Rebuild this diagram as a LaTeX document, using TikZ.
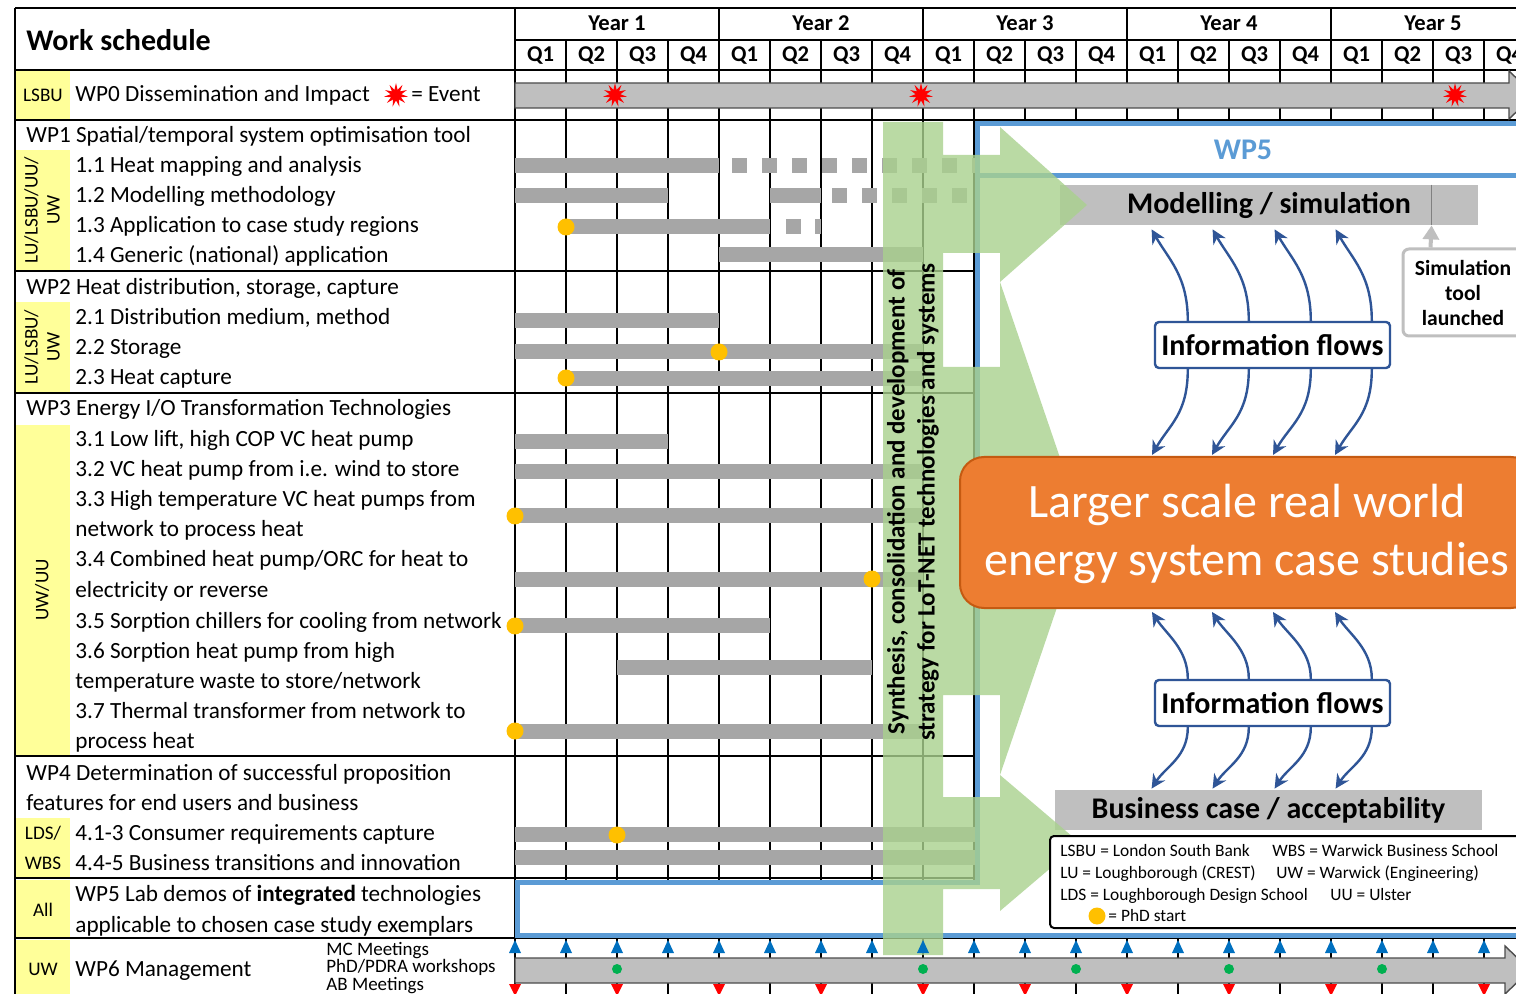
\documentclass[tikz,border=0pt]{standalone}
\usepackage{fontspec}
\setmainfont{Carlito}
\usetikzlibrary{shapes.geometric,arrows.meta,calc}
\definecolor{ylwc}{RGB}{255,255,153}
\definecolor{barc}{RGB}{166,166,166}
\definecolor{lgrayc}{RGB}{191,191,191}
\definecolor{goldc}{RGB}{255,192,0}
\definecolor{wpbluec}{RGB}{91,155,213}
\definecolor{dbluec}{RGB}{47,85,151}
\definecolor{orngc}{RGB}{237,125,49}
\definecolor{orngdc}{RGB}{197,90,17}
\definecolor{grnc}{RGB}{169,209,142}
\definecolor{tbluec}{RGB}{0,112,192}
\definecolor{mgreenc}{RGB}{0,176,80}
\newcommand\myfs[2]{\fontsize{#1}{#2}\selectfont}
\begin{document}
\begin{tikzpicture}[x=0.5pt,y=-0.5pt,
 every node/.style={inner sep=0pt},
 tx/.style={anchor=base west, font=\myfs{11.6}{13}},
 sm/.style={anchor=base west, font=\myfs{8.7}{9.5}},
 ycell/.style={fill=ylwc},
 gline/.style={line width=0.6pt},
 sline/.style={line width=1pt},
 barf/.style={fill=barc},
 phd/.style={circle, fill=goldc, minimum size=8.5pt},
 ev/.style={star, star points=11, star point ratio=2.2, fill=red, minimum size=12pt},
 flow/.style={draw=dbluec, line width=1.2pt, -{Stealth[length=7pt,width=7pt]}},
 ifbox/.style={draw=dbluec, line width=1.2pt, rounded corners=2pt, fill=white, minimum width=117.5pt, minimum height=23pt, font=\bfseries\myfs{15}{17}},
 graybar/.style={fill=lgrayc, minimum height=20pt, font=\bfseries\myfs{15}{17}},
 hdr/.style={anchor=base, font=\bfseries\myfs{11.3}{12}},
 ycl/.style={font=\myfs{9.6}{11}},
 bigarrow/.style={fill=lgrayc, draw=black!70, line width=0.7pt},
]
\useasboundingbox (0,0) rectangle (1516,994);
\clip (0,0) rectangle (1516,994);
\fill[white] (0,0) rectangle (1516,994);
% yellow cells
\fill[ycell] (15,70) rectangle (70,120);
\fill[ycell] (15,150) rectangle (70,270);
\fill[ycell] (15,302) rectangle (70,392);
\fill[ycell] (15,425) rectangle (70,755);
\fill[ycell] (15,818) rectangle (70,878);
\fill[ycell] (15,880) rectangle (70,937);
\fill[ycell] (15,940) rectangle (70,994);
% grid
\draw[sline] (15,8) -- (1516,8);
\draw[gline] (515,40) -- (1516,40);
\draw[sline] (15,70) -- (1516,70);
\draw[sline] (15,120) -- (1516,120);
\draw[sline] (15,8) -- (15,994);
\draw[sline] (515,8) -- (515,994);
\foreach \x in {719,923,1127,1331} \draw[gline] (\x,8) -- (\x,70);
\foreach \k in {1,...,19} {
  \pgfmathsetmacro\xx{515+51*\k}
  \draw[gline] (\xx,40) -- (\xx,120);
  \draw[gline] (\xx,938) -- (\xx,994);
}
\foreach \k in {1,...,9} {
  \pgfmathsetmacro\xx{515+51*\k}
  \draw[gline] (\xx,120) -- (\xx,938);
}
\foreach \y in {271,393,756,878} \draw[sline] (15,\y) -- (974,\y);
\draw[sline] (15,938) -- (1516,938);
% header texts
\node[anchor=base west, font=\bfseries\myfs{15}{17}] (ws) at (26,51) {Work schedule};
\foreach \i/\xx in {1/617,2/821,3/1025,4/1229,5/1433}
  \node[hdr] (yr\i) at (\xx,31) {Year \i};
\foreach \k in {0,...,19} {
  \pgfmathsetmacro\xx{540.5+51*\k}
  \pgfmathtruncatemacro\q{mod(\k,4)+1}
  \node[hdr] (q\k) at (\xx,62) {Q\q};
}
% yellow cell texts
\node[ycl] (c0) at (43,95) {LSBU};
\node[rotate=90, align=center, ycl] (c1) at (42,210) {LU/LSBU/UU/\\UW};
\node[rotate=90, align=center, ycl] (c2) at (42,347) {LU/LSBU/\\UW};
\node[rotate=90, ycl] (c3) at (42,590) {UW/UU};
\node[align=center, font=\myfs{9.6}{15}] (c4) at (43,848) {LDS/\\WBS};
\node[ycl] (c5) at (43,910) {All};
\node[ycl] (c6) at (43,969) {UW};
% row texts
\node[tx] (wp0) at (75,102) {WP0 Dissemination and Impact};
\node[ev] (evk) at (396,95) {};
\node[tx] (evt) at (411,102) {= Event};
\node[tx] (wp1) at (26,143) {WP1 Spatial/temporal system optimisation tool};
\node[tx] (t11) at (75,173) {1.1 Heat mapping and analysis};
\node[tx] (t12) at (75,203) {1.2 Modelling methodology};
\node[tx] (t13) at (75,233) {1.3 Application to case study regions};
\node[tx] (t14) at (75,263) {1.4 Generic (national) application};
\node[tx] (wp2) at (26,295) {WP2 Heat distribution, storage, capture};
\node[tx] (t21) at (75,325) {2.1 Distribution medium, method};
\node[tx] (t22) at (75,355) {2.2 Storage};
\node[tx] (t23) at (75,385) {2.3 Heat capture};
\node[tx] (wp3) at (26,416) {WP3 Energy I/O Transformation Technologies};
\node[tx] (t31) at (75,447) {3.1 Low lift, high COP VC heat pump};
\node[tx] (t32) at (75,477) {3.2 VC heat pump from i.e. wind to store};
\node[tx] (t33a) at (75,507) {3.3 High temperature VC heat pumps from};
\node[tx] (t33b) at (75,537) {network to process heat};
\node[tx] (t34a) at (75,567) {3.4 Combined heat pump/ORC for heat to};
\node[tx] (t34b) at (75,597) {electricity or reverse};
\node[tx] (t35) at (75,628) {3.5 Sorption chillers for cooling from network};
\node[tx] (t36a) at (75,658) {3.6 Sorption heat pump from high};
\node[tx] (t36b) at (75,688) {temperature waste to store/network};
\node[tx] (t37a) at (75,718) {3.7 Thermal transformer from network to};
\node[tx] (t37b) at (75,748) {process heat};
\node[tx] (wp4a) at (26,780) {WP4 Determination of successful proposition};
\node[tx] (wp4b) at (26,810) {features for end users and business};
\node[tx] (t41) at (75,840) {4.1-3 Consumer requirements capture};
\node[tx] (t44) at (75,870) {4.4-5 Business transitions and innovation};
\node[tx] (wp5a) at (75,901) {WP5 Lab demos of \textbf{integrated} technologies};
\node[tx] (wp5b) at (75,932) {applicable to chosen case study exemplars};
\node[tx] (wp6) at (75,976) {WP6 Management};
\node[anchor=base west, font=\myfs{9.5}{9}] (mc) at (326,955) {MC Meetings};
\node[anchor=base west, font=\myfs{9.5}{9}] (pw) at (326,972) {PhD/PDRA workshops};
\node[anchor=base west, font=\myfs{9.5}{9}] (ab) at (326,990) {AB Meetings};
% gantt bars
\fill[barf] (515,158) rectangle (719,173);
\foreach \k in {0,...,8} \fill[barf] (732+30*\k,158) rectangle (747+30*\k,173);
\fill[barf] (515,188) rectangle (668,203);
\fill[barf] (770,188) rectangle (821,203);
\foreach \k in {0,...,4} \fill[barf] (832+30*\k,188) rectangle (847+30*\k,203);
\fill[barf] (566,219) rectangle (770,234);
\fill[barf] (786,219) rectangle (801,234);
\fill[barf] (815,219) rectangle (821,234);
\fill[barf] (719,247) rectangle (923,262);
\fill[barf] (515,313) rectangle (719,328);
\fill[barf] (515,344) rectangle (923,359);
\fill[barf] (566,371) rectangle (923,386);
\fill[barf] (515,434) rectangle (668,449);
\fill[barf] (515,464) rectangle (923,479);
\fill[barf] (515,508) rectangle (923,523);
\fill[barf] (515,572) rectangle (923,587);
\fill[barf] (515,618) rectangle (770,633);
\fill[barf] (617,660) rectangle (872,675);
\fill[barf] (515,724) rectangle (923,739);
\fill[barf] (515,827) rectangle (975,842);
\fill[barf] (515,850) rectangle (975,865);
% PhD dots
\foreach \p/\xx/\yy in {a/566/227,b/719/352,c/566/378,d/515/516,e/872/579,f/515/626,g/515/731,h/617/835}
  \node[phd] (phd\p) at (\xx,\yy) {};
% WP0 arrow
\draw[bigarrow] (515,83) -- (1509,83) -- (1509,71) -- (1534,95) -- (1509,119) -- (1509,108) -- (515,108) -- cycle;
\node[ev] (ev1) at (615,95) {};
\node[ev] (ev2) at (921,95) {};
\node[ev] (ev3) at (1455,95) {};
% WP6 arrow
\draw[bigarrow] (515,958) -- (1505,958) -- (1505,946) -- (1530,970) -- (1505,994) -- (1505,983) -- (515,983) -- cycle;
% WP5 blue box
\draw[wpbluec, line width=2.5pt, fill=white] (977,124) -- (1545,124) -- (1545,935) -- (517,935) -- (517,882) -- (977,882) -- cycle;
\draw[wpbluec, line width=2.5pt] (977,176) -- (1545,176);
\node[font=\bfseries\myfs{15}{17}, text=wpbluec] (wp5) at (1243,150) {WP5};
% gray bars
\node[graybar, minimum width=209pt] (model) at (1269,205) {Modelling / simulation};
\node[graybar, minimum width=213.5pt] (biz) at (1268.5,810) {Business case / acceptability};
% green overlay
\fill[grnc, opacity=0.8]
  (883,122) rectangle (943,955)
  (943,155) -- (1000,155) -- (1000,127) -- (1087,205) -- (1000,282) -- (1000,253) -- (943,253) -- cycle
  (943,367) -- (1000,367) -- (1000,282) -- (1084,528) -- (1000,775) -- (1000,695) -- (943,695) -- cycle
  (943,797) -- (1000,797) -- (1000,775) -- (1080,843) -- (1000,911) -- (1000,889) -- (943,889) -- cycle;
\node[rotate=90, align=center, font=\bfseries\myfs{12.5}{15}] (synth) at (913,502) {Synthesis, consolidation and development of\\strategy for LoT-NET technologies and systems};
% WP6 markers
\foreach \k in {0,...,19} {
  \pgfmathsetmacro\xx{515+51*\k}
  \fill[tbluec] (\xx-6,953) -- (\xx+6,953) -- (\xx,940) -- cycle;
}
\foreach \xx in {515,617,719,821,923,1025,1127,1229,1331,1484}
  \fill[red] (\xx-6,984) -- (\xx+6,984) -- (\xx,996) -- cycle;
\foreach \i/\xx in {1/617,2/923,3/1076,4/1229,5/1382}
  \node[circle, fill=mgreenc, minimum size=5pt] (md\i) at (\xx,969) {};
% orange box
\node[fill=orngc, draw=orngdc, line width=1pt, rounded corners=12pt, minimum width=287.5pt, minimum height=75.5pt] (orng) at (1247.5,532.5) {};
\node[text=white, align=center, font=\myfs{24}{29}] (orngt) at (1247,534) {Larger scale real world\\energy system case studies};
% information flows
\node[ifbox] (ifu) at (1272.5,345) {Information flows};
\node[ifbox] (ifl) at (1272.5,703) {Information flows};
\foreach \a/\b/\c in {34/92/193, 95/153/253, 157/215/314, 218/276/376} {
  \draw[flow] ($(ifu.north west)+(\a,0)$) .. controls +(0,-45) and +(17,30) .. ($(model.south west)+(\b,4)$);
  \draw[flow] ($(ifu.south west)+(\a,0)$) .. controls +(0,45) and +(17,-30) .. ($(orng.north west)+(\c,-1)$);
  \draw[flow] ($(ifl.north west)+(\a,0)$) .. controls +(0,-30) and +(14,22) .. ($(orng.south west)+(\c,3)$);
  \draw[flow] ($(ifl.south west)+(\a,0)$) .. controls +(0,30) and +(14,-22) .. ($(biz.north west)+(\b+5,-1)$);
}
% simulation tool
\node[draw=lgrayc, line width=1.5pt, rounded corners=3pt, fill=white, minimum width=60pt, minimum height=43.5pt, align=center, font=\bfseries\myfs{10.8}{12.5}] (sim) at (1463,292.5) {Simulation\\tool\\launched};
\draw[gray, line width=0.5pt] ($(model.north west)+(372,0)$) -- ($(model.south west)+(372,0)$);
\draw[draw=lgrayc, line width=2pt, -{Triangle[length=7pt,width=8pt]}] ($(sim.north west)+(29,0)$) -- ($(model.south west)+(372,0)$);
% legend
\node[draw, line width=1pt, rounded corners=2pt, fill=white, minimum width=245pt, minimum height=46pt] (legend) at (1295,882) {};
\node[sm] (l1) at (1060,856) {LSBU = London South Bank};
\node[sm] (l2) at (1272,856) {WBS = Warwick Business School};
\node[sm] (l3) at (1060,878) {LU = Loughborough (CREST)};
\node[sm] (l4) at (1276,878) {UW = Warwick (Engineering)};
\node[sm] (l5) at (1060,900) {LDS = Loughborough Design School};
\node[sm] (l6) at (1330,900) {UU = Ulster};
\node[phd] (l7) at (1097,916) {};
\node[sm] (l8) at (1108,921) {= PhD start};
\end{tikzpicture}
\end{document}
